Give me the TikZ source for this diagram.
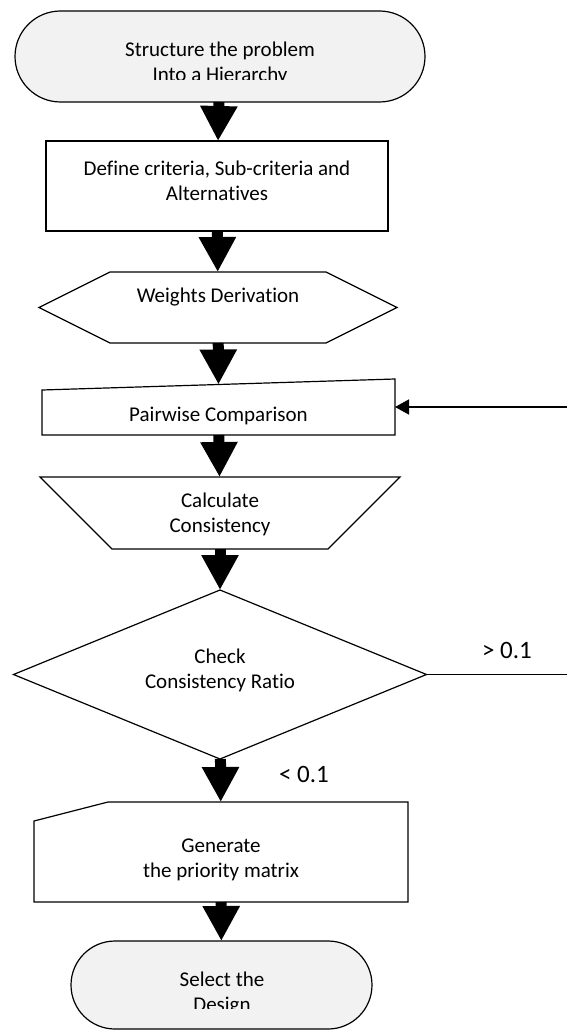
\documentclass[tikz,border=0pt]{standalone}
\usepackage{fontspec}
\setmainfont{Carlito}[Ligatures=NoCommon]
\usetikzlibrary{positioning,shapes.geometric,shapes.misc,arrows.meta}
\definecolor{termgray}{HTML}{F2F2F2}

\begin{document}
\begin{tikzpicture}[x=1pt,y=-1pt,
  box/.style={draw,line width=1.2pt,rectangle,inner sep=0pt,outer sep=0pt},
  plain/.style={rectangle,inner sep=0pt,outer sep=0pt},
  terminal/.style={draw,line width=1.2pt,fill=termgray,rounded rectangle,inner sep=0pt,outer sep=0pt},
  decision/.style={draw,line width=1.2pt,diamond,inner sep=0pt,outer sep=0pt},
  outline/.style={line width=1.2pt,line join=miter},
  txt/.style={align=center,inner sep=0pt,font=\fontsize{21}{25}\selectfont},
  cond/.style={inner sep=0pt,font=\fontsize{25}{30}\selectfont},
  flow/.style={line width=11pt,-{Triangle[length=35pt,width=35pt]}},
  feed/.style={line width=1.5pt,-{Triangle[length=14pt,width=15pt]}}]
  \useasboundingbox (0,0) rectangle (567,1030);
  % Define nodes
  \node[terminal, minimum width=410pt, minimum height=91pt] (start) at (220,56.5) {};
  \node[box, minimum width=342pt, minimum height=90pt, below=39pt of start, xshift=-3pt] (define) {};
  \node[plain, minimum width=358pt, minimum height=71pt, below=41pt of define, xshift=1pt] (weights) {};
  \node[plain, minimum width=353pt, minimum height=56pt, below=36pt of weights, xshift=0.5pt] (pairwise) {};
  \node[plain, minimum width=360pt, minimum height=72pt, below=42pt of pairwise, xshift=1.5pt] (calc) {};
  \node[decision, minimum width=413pt, minimum height=169pt, below=41pt of calc] (check) {};
  \node[plain, minimum width=374pt, minimum height=100pt, below=43pt of check, xshift=1pt] (generate) {};
  \node[terminal, minimum width=301pt, minimum height=88pt, below=39pt of generate, xshift=0.5pt] (stop) {};
  \coordinate (loopin) at (567,407);
  \coordinate (loopout) at (567,674.5);

  % Outlines of the other shapes
  \draw[outline] (weights.west) -- ([xshift=71pt]weights.north west) -- ([xshift=-71pt]weights.north east)
    -- (weights.east) -- ([xshift=-71pt]weights.south east) -- ([xshift=71pt]weights.south west) -- cycle;
  \draw[outline] ([yshift=-11pt]pairwise.north west) -- (pairwise.north east) -- (pairwise.south east)
    -- (pairwise.south west) -- cycle;
  \draw[outline] (calc.north west) -- (calc.north east) -- ([xshift=-72pt]calc.south east)
    -- ([xshift=72pt]calc.south west) -- cycle;
  \draw[outline] ([yshift=-19pt]generate.north west) -- ([xshift=74pt]generate.north west)
    -- (generate.north east) -- (generate.south east) -- (generate.south west) -- cycle;

  % Texts
  \begin{scope}
    \clip (start.north west) rectangle ([yshift=22pt]start.south east);
    \node[txt, yshift=-7.25pt] (starttext) at (start) {Structure the problem\\Into a Hierarchy};
  \end{scope}
  \node[txt, yshift=5pt] (definetext) at (define) {Define criteria, Sub-criteria and\\Alternatives};
  \node[txt, yshift=10.75pt] (weightstext) at (weights) {Weights Derivation};
  \node[txt, yshift=-8.75pt] (pairwisetext) at (pairwise) {Pairwise Comparison};
  \node[txt, yshift=-1.75pt] (calctext) at (calc) {Calculate\\Consistency};
  \node[txt, yshift=4.5pt] (checktext) at (check) {Check\\Consistency Ratio};
  \node[txt, yshift=-8pt] (generatetext) at (generate) {Generate\\the priority matrix};
  \begin{scope}
    \clip (stop.north west) rectangle ([yshift=21pt]stop.south east);
    \node[txt, yshift=-8.75pt, xshift=0.5pt] (stoptext) at (stop) {Select the\\Design};
  \end{scope}
  \node[cond] (gtlabel) at (507,650) {> 0.1};
  \node[cond] (ltlabel) at (304,774) {< 0.1};

  % Connectors
  \draw[flow] (start) -- (define);
  \draw[flow] (define) -- (weights);
  \draw[flow] (weights) -- ([yshift=-5.5pt]pairwise.north);
  \draw[flow] (pairwise) -- (calc);
  \draw[flow] (calc) -- (check);
  \draw[flow] (check) -- (generate);
  \draw[flow] (generate) -- (stop);
  \draw[feed] (loopin) -- (pairwise.east);
  \draw[line width=1.2pt] (check.east) -- (loopout);
\end{tikzpicture}
\end{document}
